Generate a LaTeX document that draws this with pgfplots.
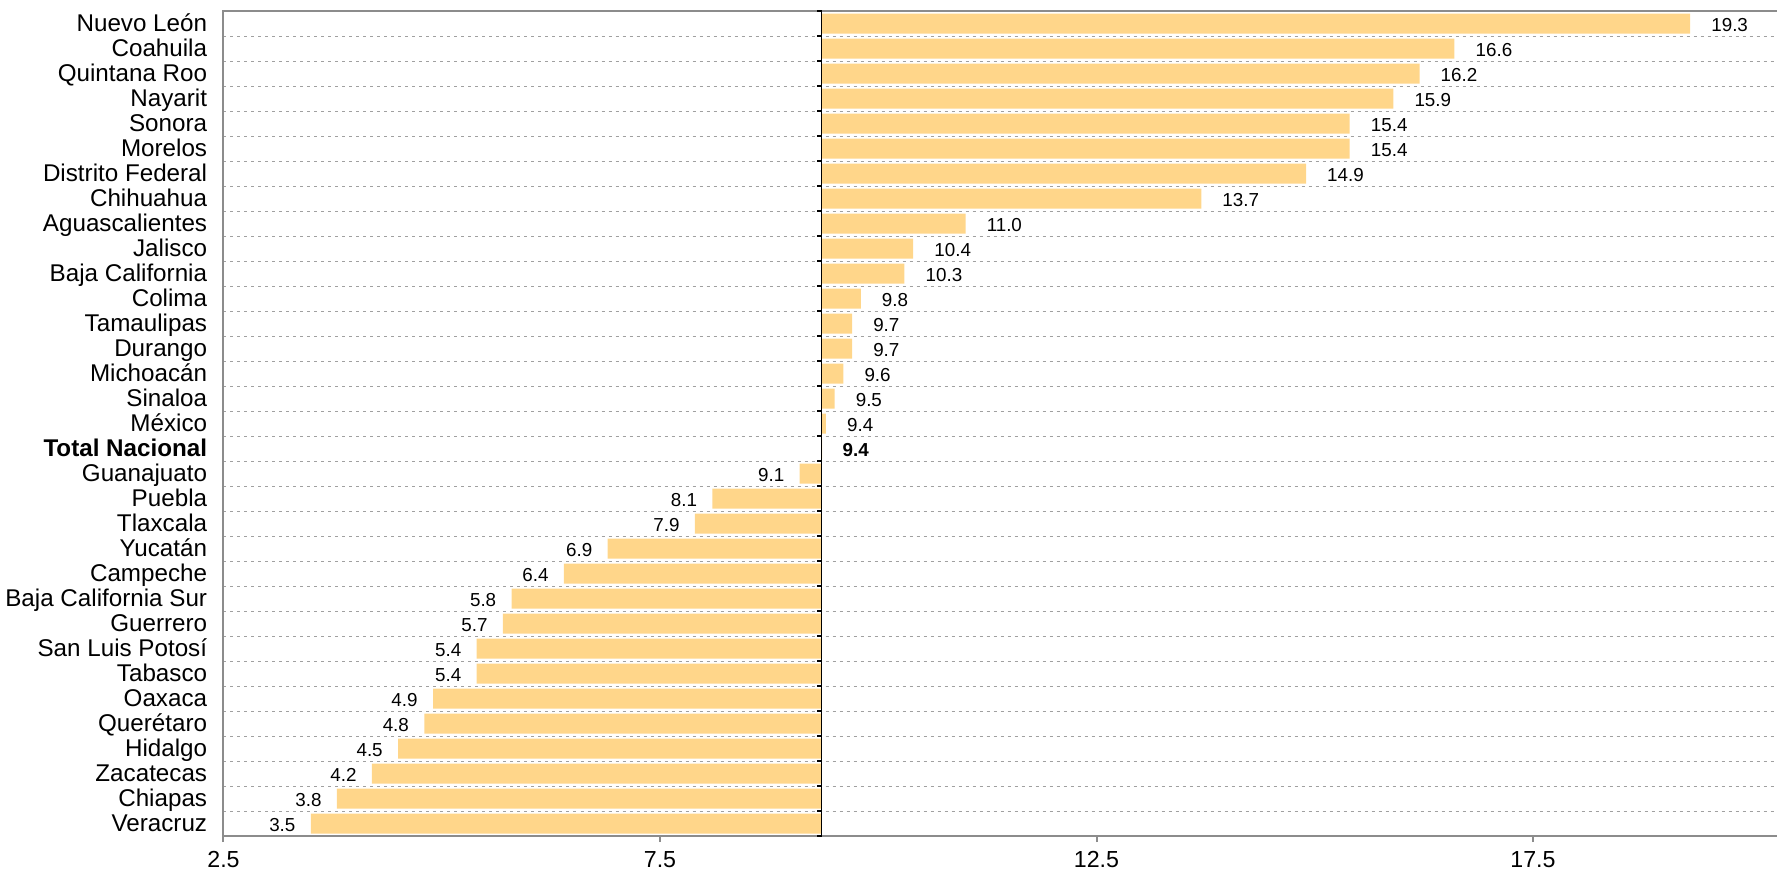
\documentclass[border=0pt]{standalone}
\usepackage{pgfplots}
\pgfplotsset{compat=1.18}
\usepackage{pgfplotstable}
\usepackage{fontspec}
\setmainfont{Liberation Sans}
\definecolor{barc}{HTML}{FFD68A}
\definecolor{framec}{HTML}{8C8C8C}
\definecolor{gridc}{HTML}{A0A0A0}

\pgfplotstableread{
idx v
0 19.3
1 16.6
2 16.2
3 15.9
4 15.4
5 15.4
6 14.9
7 13.7
8 11.0
9 10.4
10 10.3
11 9.8
12 9.7
13 9.7
14 9.6
15 9.5
16 9.4
}\tabup
\pgfplotstableread{
idx v
17 9.4
}\tabtot
\pgfplotstableread{
idx v
18 9.1
19 8.1
20 7.9
21 6.9
22 6.4
23 5.8
24 5.7
25 5.4
26 5.4
27 4.9
28 4.8
29 4.5
30 4.2
31 3.8
32 3.5
}\tabdown

\newcommand{\basev}{9.35}
\newcommand{\valfont}{\fontsize{9.4bp}{11bp}\selectfont}

\begin{document}
\begin{tikzpicture}
\begin{axis}[
  at={(0,0)}, anchor=south west,
  scale only axis, width=776.75bp, height=412.5bp,
  xmin=-6.85, xmax=10.945, ymin=-0.5, ymax=32.5, y dir=reverse,
  xbar, bar width=0.8,
  clip=false,
  /pgf/number format/assume math mode=true,
  axis line style={draw=none},
  xtick={-6.85,-1.85,3.15,8.15}, xticklabels={2.5,7.5,12.5,17.5},
  xtick pos=lower, tick align=outside, major tick length=3bp,
  x tick style={framec, line width=1bp},
  xticklabel style={font=\fontsize{11.6bp}{13bp}\selectfont, anchor=base, inner sep=0pt, yshift=-12.5bp},
  ytick={0,...,32},
  yticklabels={Nuevo León,Coahuila,Quintana Roo,Nayarit,Sonora,Morelos,Distrito Federal,Chihuahua,Aguascalientes,Jalisco,Baja California,Colima,Tamaulipas,Durango,Michoacán,Sinaloa,México,\textbf{Total Nacional},Guanajuato,Puebla,Tlaxcala,Yucatán,Campeche,Baja California Sur,Guerrero,San Luis Potosí,Tabasco,Oaxaca,Querétaro,Hidalgo,Zacatecas,Chiapas,Veracruz},
  y tick style={draw=none},
  yticklabel style={font=\fontsize{12.1bp}{13bp}\selectfont, anchor=base east, inner sep=0pt, xshift=-5bp, yshift=-3.75bp},
  minor ytick={0.5,1.5,...,31.5},
  yminorgrids=true,
  minor y grid style={gridc, line width=0.5bp, dash pattern=on 1.5bp off 2bp},
  point meta=explicit,
]
\addplot[fill=barc, draw=none, bar shift=0pt,
  nodes near coords={\pgfmathprintnumber[fixed,fixed zerofill,precision=1]{\pgfplotspointmeta}},
  every node near coord/.append style={font=\valfont, anchor=base west, inner sep=0pt, xshift=10.4bp, yshift=-3.8bp, black}]
  table[x expr=\thisrow{v}-\basev, y=idx, meta=v]{\tabup};
\addplot[fill=barc, draw=none, bar shift=0pt,
  nodes near coords={\textbf{\pgfmathprintnumber[fixed,fixed zerofill,precision=1]{\pgfplotspointmeta}}},
  every node near coord/.append style={font=\valfont, anchor=base west, inner sep=0pt, xshift=10.4bp, yshift=-3.8bp, black}]
  table[x expr=0, y=idx, meta=v]{\tabtot};
\addplot[fill=barc, draw=none, bar shift=0pt,
  nodes near coords={\pgfmathprintnumber[fixed,fixed zerofill,precision=1]{\pgfplotspointmeta}},
  every node near coord/.append style={font=\valfont, anchor=base east, inner sep=0pt, xshift=-7.5bp, yshift=-3.8bp, black}]
  table[x expr=\thisrow{v}-\basev, y=idx, meta=v]{\tabdown};
\draw[framec, line width=1bp] (rel axis cs:1,1) -- (rel axis cs:0,1) -- (rel axis cs:0,0) -- (rel axis cs:1,0);
\draw[black, line width=0.8bp] (axis cs:0,-0.5) -- (axis cs:0,32.5);
\pgfplotsinvokeforeach{-0.5,0.5,...,32.5}{\draw[black, line width=0.6bp] (axis cs:0,#1) -- (axis cs:-0.057,#1);}
\end{axis}
\pgfresetboundingbox
\path (-111.75bp,-19bp) rectangle (776.75bp,418bp);
\end{tikzpicture}
\end{document}
